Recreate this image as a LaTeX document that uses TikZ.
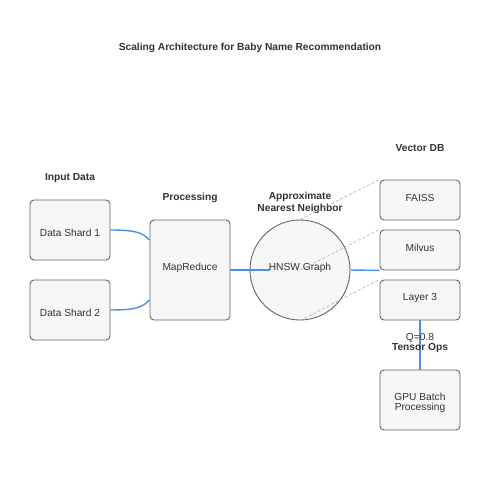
\documentclass[tikz,border=0pt]{standalone}
\usepackage{fontspec}
\setmainfont{Liberation Sans}
\definecolor{flowblue}{HTML}{4A90E2}
\begin{document}
\begin{tikzpicture}[x=1pt,y=-1pt,
  every node/.style={font=\fontsize{10.2}{11}\selectfont, text=black!80},
  boxnode/.style={draw=black!60, fill=black!3, line width=0.9pt, rounded corners=4pt, inner sep=0pt},
  lbl/.style={font=\fontsize{10.2}{11}\selectfont\bfseries, text=black!80, align=center},
  flow/.style={draw=flowblue, line width=1.4pt},
  dashline/.style={draw=black!30, line width=0.6pt, dash pattern=on 3pt off 2pt}]
\useasboundingbox (0,0) rectangle (500,500);
\fill[white] (0,0) rectangle (500,500);
\node[lbl] (title) at (250,48) {Scaling Architecture for Baby Name Recommendation};
\node[lbl] (linput) at (70,178) {Input Data};
\node[lbl] (lproc) at (190,198) {Processing};
\node[lbl] (lann) at (300,203) {\shortstack{Approximate\\[-1pt]Nearest Neighbor}};
\node[lbl] (lvdb) at (420,148) {Vector DB};

\node[boxnode, minimum width=80pt, minimum height=60pt] (s1) at (70,230) {};
\node (s1t) at (70,233) {Data Shard 1};
\node[boxnode, minimum width=80pt, minimum height=60pt] (s2) at (70,310) {};
\node (s2t) at (70,313) {Data Shard 2};
\node[boxnode, minimum width=80pt, minimum height=100pt] (mr) at (190,270) {};
\node (mrt) at (190,268) {MapReduce};
\node[draw=black!60, fill=black!3, line width=0.9pt, circle, minimum size=100pt, inner sep=0pt] (hn) at (300,270) {};
\node[boxnode, minimum width=80pt, minimum height=40pt] (fa) at (420,200) {};
\node (fat) at (420,198) {FAISS};
\node[boxnode, minimum width=80pt, minimum height=40pt] (mi) at (420,250) {};
\node (mit) at (420,248) {Milvus};
\node[boxnode, minimum width=80pt, minimum height=40pt] (l3) at (420,300) {};
\node (l3t) at (420,298) {Layer 3};
\node[boxnode, minimum width=80pt, minimum height=60pt] (gpu) at (420,400) {};

\draw[dashline] (hn.north) -- (fa.north west);
\draw[dashline] (hn.center) -- (mi.north west);
\draw[dashline] (hn.south) -- (l3.north west);

\draw[flow] (s1.east) .. controls (140,230) and (143,234) .. (mr.west |- 0,240);
\draw[flow] (s2.east) .. controls (140,310) and (143,306) .. (mr.west |- 0,300);
\coordinate (hnin) at (270,270);
\draw[flow] (mr.east) -- (hnin);
\draw[flow] (hn.east) -- (mi.south west);
\draw[flow] (l3.south) -- (gpu.north);

\node (hnt) at (300,268) {HNSW Graph};
\node (q) at (420,338) {Q=0.8};
\node[lbl] (lten) at (420,348) {Tensor Ops};
\node[align=center] (gput) at (420,403) {\shortstack{GPU Batch\\[-1pt]Processing}};
\end{tikzpicture}
\end{document}
